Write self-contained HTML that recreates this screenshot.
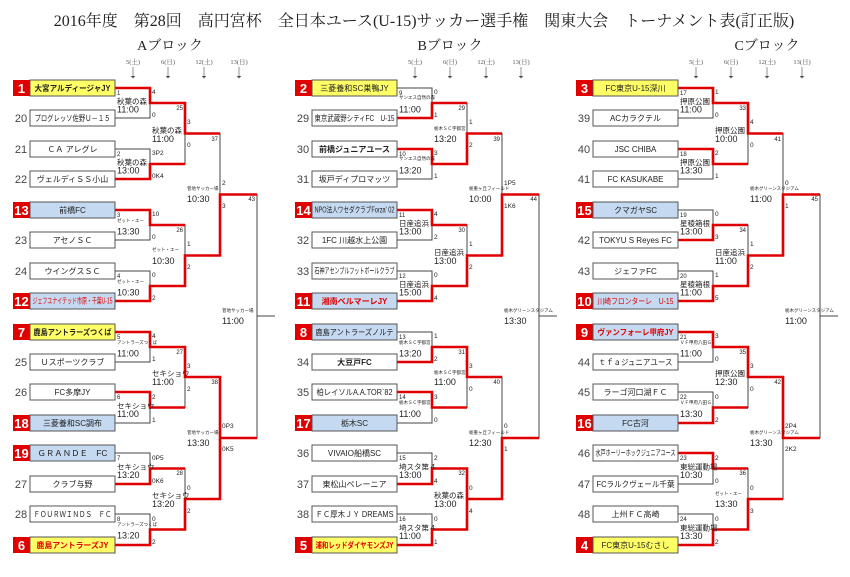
<!DOCTYPE html>
<html><head><meta charset="utf-8"><style>
html,body{margin:0;padding:0;background:#fff;width:850px;height:577px;overflow:hidden}
svg{display:block}
text{font-family:"Liberation Sans","Noto Sans CJK JP",sans-serif;fill:#222}
.ser{font-family:"Liberation Serif","Noto Serif CJK JP",serif}
.tm{font-size:16px}
.bt{font-size:14px}
.dt{font-size:6.5px;fill:#555}
.n{font-size:6px}
.v{font-size:7.5px}
.tv{font-size:4.5px}
.t{font-size:9px;transform:translate(0,1px)}
.s{font-size:6.5px}
.num{font-size:11px;fill:#444}
.sn{font-size:13px;font-weight:bold;fill:#fff}
.tn{font-size:8px}
.rd{fill:#e00000}
.blk{fill:none;stroke:#444;stroke-width:1}
.red{fill:none;stroke:#e00000;stroke-width:2.6}
.bx{fill:#fff;stroke:#555;stroke-width:1}
.by{fill:#ffff66;stroke:#555;stroke-width:1}
.bb{fill:#c5d9f1;stroke:#555;stroke-width:1}
.sb{fill:#e00000}
.ar{stroke:#777;stroke-width:.8}
</style></head><body>
<svg width="850" height="577" viewBox="0 0 850 577" xmlns="http://www.w3.org/2000/svg">
<text class="ser tm" x="424" y="26" text-anchor="middle">2016年度　第28回　高円宮杯　全日本ユース(U-15)サッカー選手権　関東大会　トーナメント表(訂正版)</text>
<text class="ser bt" x="170" y="50" text-anchor="middle">Aブロック</text>
<text class="ser bt" x="450" y="50" text-anchor="middle">Bブロック</text>
<text class="ser bt" x="767" y="50" text-anchor="middle">Cブロック</text>

<g>
<text class="dt ser" x="133" y="64" text-anchor="middle">5(土)</text>
<text class="dt ser" x="168" y="64" text-anchor="middle">6(日)</text>
<text class="dt ser" x="204" y="64" text-anchor="middle">12(土)</text>
<text class="dt ser" x="239" y="64" text-anchor="middle">13(日)</text>
<path class="ar" d="M133 67V78M131 76L133 78L135 76M168 67V78M166 76L168 78L170 76M204 67V78M202 76L204 78L206 76M239 67V78M237 76L239 78L241 76"/>
</g>
<g transform="translate(282,0)">
<text class="dt ser" x="133" y="64" text-anchor="middle">5(土)</text>
<text class="dt ser" x="168" y="64" text-anchor="middle">6(日)</text>
<text class="dt ser" x="204" y="64" text-anchor="middle">12(土)</text>
<text class="dt ser" x="239" y="64" text-anchor="middle">13(日)</text>
<path class="ar" d="M133 67V78M131 76L133 78L135 76M168 67V78M166 76L168 78L170 76M204 67V78M202 76L204 78L206 76M239 67V78M237 76L239 78L241 76"/>
</g>
<g transform="translate(563,0)">
<text class="dt ser" x="133" y="64" text-anchor="middle">5(土)</text>
<text class="dt ser" x="168" y="64" text-anchor="middle">6(日)</text>
<text class="dt ser" x="204" y="64" text-anchor="middle">12(土)</text>
<text class="dt ser" x="239" y="64" text-anchor="middle">13(日)</text>
<path class="ar" d="M133 67V78M131 76L133 78L135 76M168 67V78M166 76L168 78L170 76M204 67V78M202 76L204 78L206 76M239 67V78M237 76L239 78L241 76"/>
</g>

<!-- ============ BLOCK A ============ -->
<g>
<path class="blk" d="M115 88H150V118H115M115 149H150V179H115M115 210H150V240H115M115 271H150V301H115M115 332H150V362H115M115 392H150V423H115M115 453H150V484H115M115 514H150V545H115M150 103H185V164H150M150 225H185V286H150M150 347H185V407.5H150M150 468.5H185V529.5H150M185 133.5H220V255.5H185M185 377H220V499H185M220 194.5H257V438H220M257 316H275"/>
<path class="red" d="M115 88H150V103H185V133.5H220M115 179H150V164H185M115 210H150V225H185M115 301H150V286H185V255.5H220V194.5H257M115 332H150V347H185V377H220V438H257M115 392H150V407.5H185M115 484H150V468.5H185M115 545H150V529.5H185V499H220V438"/>
<rect class="sb" x="13" y="80" width="17" height="16"/><text class="sn" x="21.5" y="93" text-anchor="middle">1</text>
<rect class="by" x="30" y="80" width="85" height="16"/><text class="tn" x="72.5" y="91" text-anchor="middle" font-weight="bold" textLength="76" lengthAdjust="spacingAndGlyphs">大宮アルディージャJY</text>
<text class="num" x="21" y="122" text-anchor="middle">20</text><rect class="bx" x="30" y="110" width="85" height="16"/><text class="tn" x="72.5" y="121" text-anchor="middle" textLength="76" lengthAdjust="spacingAndGlyphs">プログレッソ佐野Ｕ－１５</text>
<text class="num" x="21" y="153" text-anchor="middle">21</text><rect class="bx" x="30" y="141" width="85" height="16"/><text class="tn" x="72.5" y="152" text-anchor="middle">ＣＡ アレグレ</text>
<text class="num" x="21" y="183" text-anchor="middle">22</text><rect class="bx" x="30" y="171" width="85" height="16"/><text class="tn" x="72.5" y="182" text-anchor="middle">ヴェルディＳＳ小山</text>
<rect class="sb" x="13" y="202" width="17" height="16"/><text class="sn" x="21.5" y="215" text-anchor="middle">13</text>
<rect class="bb" x="30" y="202" width="85" height="16"/><text class="tn" x="72.5" y="213" text-anchor="middle">前橋FC</text>
<text class="num" x="21" y="244" text-anchor="middle">23</text><rect class="bx" x="30" y="232" width="85" height="16"/><text class="tn" x="72.5" y="243" text-anchor="middle">アセノＳＣ</text>
<text class="num" x="21" y="275" text-anchor="middle">24</text><rect class="bx" x="30" y="263" width="85" height="16"/><text class="tn" x="72.5" y="274" text-anchor="middle">ウイングスＳＣ</text>
<rect class="sb" x="13" y="293" width="17" height="16"/><text class="sn" x="21.5" y="306" text-anchor="middle">12</text>
<rect class="bb" x="30" y="293" width="85" height="16"/><text class="tn rd" x="72.5" y="303.5" text-anchor="middle" font-size="5.5" textLength="80" lengthAdjust="spacingAndGlyphs">ジェフユナイテッド市原・千葉U-15</text>
<rect class="sb" x="13" y="324" width="17" height="16"/><text class="sn" x="21.5" y="337" text-anchor="middle">7</text>
<rect class="by" x="30" y="324" width="85" height="16"/><text class="tn" x="72.5" y="335" text-anchor="middle" font-weight="bold" textLength="78" lengthAdjust="spacingAndGlyphs">鹿島アントラーズつくば</text>
<text class="num" x="21" y="366" text-anchor="middle">25</text><rect class="bx" x="30" y="354" width="85" height="16"/><text class="tn" x="72.5" y="365" text-anchor="middle">Ｕスポーツクラブ</text>
<text class="num" x="21" y="396" text-anchor="middle">26</text><rect class="bx" x="30" y="384" width="85" height="16"/><text class="tn" x="72.5" y="395" text-anchor="middle">FC多摩JY</text>
<rect class="sb" x="13" y="415" width="17" height="16"/><text class="sn" x="21.5" y="428" text-anchor="middle">18</text>
<rect class="bb" x="30" y="415" width="85" height="16"/><text class="tn" x="72.5" y="426" text-anchor="middle">三菱養和SC調布</text>
<rect class="sb" x="13" y="445" width="17" height="16"/><text class="sn" x="21.5" y="458" text-anchor="middle">19</text>
<rect class="bb" x="30" y="445" width="85" height="16"/><text class="tn" x="72.5" y="456" text-anchor="middle" textLength="70" lengthAdjust="spacingAndGlyphs">ＧＲＡＮＤＥ　FC</text>
<text class="num" x="21" y="488" text-anchor="middle">27</text><rect class="bx" x="30" y="476" width="85" height="16"/><text class="tn" x="72.5" y="487" text-anchor="middle">クラブ与野</text>
<text class="num" x="21" y="518" text-anchor="middle">28</text><rect class="bx" x="30" y="506" width="85" height="16"/><text class="tn" x="72.5" y="517" text-anchor="middle" textLength="78" lengthAdjust="spacingAndGlyphs">ＦＯＵＲＷＩＮＤＳ　ＦＣ</text>
<rect class="sb" x="13" y="537" width="17" height="16"/><text class="sn" x="21.5" y="550" text-anchor="middle">6</text>
<rect class="by" x="30" y="537" width="85" height="16"/><text class="tn rd" x="72.5" y="548" text-anchor="middle" font-weight="bold" textLength="72" lengthAdjust="spacingAndGlyphs">鹿島アントラーズJY</text>
<text class="n" x="117" y="95">1</text><text class="v" x="117" y="104">秋葉の森</text><text class="t" x="117" y="111.5">11:00</text><text class="s" x="152" y="94">4</text><text class="s" x="152" y="117">0</text>
<text class="n" x="117" y="156">2</text><text class="v" x="117" y="165">秋葉の森</text><text class="t" x="117" y="172.5">13:00</text><text class="s" x="152" y="155">3P2</text><text class="s" x="152" y="178">0K4</text>
<text class="n" x="117" y="217">3</text><text class="tv" x="117" y="222" font-size="6">ゼット・エー</text><text class="t" x="117" y="233.5">13:30</text><text class="s" x="152" y="216">10</text><text class="s" x="152" y="239">0</text>
<text class="n" x="117" y="278">4</text><text class="tv" x="117" y="283" font-size="6">ゼット・エー</text><text class="t" x="117" y="294.5">10:30</text><text class="s" x="152" y="277">0</text><text class="s" x="152" y="300">2</text>
<text class="n" x="117" y="339">5</text><text class="tv" x="117" y="344">アントラーズつくば</text><text class="t" x="117" y="355.5">11:00</text><text class="s" x="152" y="338">4</text><text class="s" x="152" y="361">1</text>
<text class="n" x="117" y="399">6</text><text class="v" x="117" y="408.5">セキショウ</text><text class="t" x="117" y="416">11:00</text><text class="s" x="152" y="399">2</text><text class="s" x="152" y="422">1</text>
<text class="n" x="117" y="460">7</text><text class="v" x="117" y="469.5">セキショウ</text><text class="t" x="117" y="477">13:20</text><text class="s" x="152" y="460">0P5</text><text class="s" x="152" y="483">0K6</text>
<text class="n" x="117" y="521">8</text><text class="tv" x="117" y="526">アントラーズつくば</text><text class="t" x="117" y="537.5">13:20</text><text class="s" x="152" y="521">0</text><text class="s" x="152" y="544">2</text>
<text class="n" x="183" y="110" text-anchor="end">25</text><text class="v" x="152" y="133">秋葉の森</text><text class="t" x="152" y="141">11:00</text><text class="s" x="187" y="124">3</text><text class="s" x="187" y="147">0</text>
<text class="n" x="183" y="232" text-anchor="end">26</text><text class="tv" x="152" y="251" font-size="6">ゼット・エー</text><text class="t" x="152" y="263">10:30</text><text class="s" x="187" y="246">1</text><text class="s" x="187" y="269">2</text>
<text class="n" x="183" y="354" text-anchor="end">27</text><text class="v" x="152" y="376">セキショウ</text><text class="t" x="152" y="384">11:00</text><text class="s" x="187" y="368">3</text><text class="s" x="187" y="391">2</text>
<text class="n" x="183" y="475" text-anchor="end">28</text><text class="v" x="152" y="498">セキショウ</text><text class="t" x="152" y="506">13:20</text><text class="s" x="187" y="490">0</text><text class="s" x="187" y="513">2</text>
<text class="n" x="218" y="141" text-anchor="end">37</text><text class="tv" x="187" y="190">菅地サッカー場</text><text class="t" x="187" y="201">10:30</text><text class="s" x="222" y="185">2</text><text class="s" x="222" y="208">3</text>
<text class="n" x="218" y="384" text-anchor="end">38</text><text class="tv" x="187" y="434">菅地サッカー場</text><text class="t" x="187" y="445">13:30</text><text class="s" x="222" y="428">0P3</text><text class="s" x="222" y="451">0K5</text>
<text class="n" x="255" y="201" text-anchor="end">43</text><text class="tv" x="222" y="312">菅地サッカー場</text><text class="t" x="222" y="323">11:00</text>
</g>

<!-- ============ BLOCK B ============ -->
<g transform="translate(282,0)">
<path class="blk" d="M115 88H150V118H115M115 149H150V179H115M115 210H150V240H115M115 271H150V301H115M115 332H150V362H115M115 392H150V423H115M115 453H150V484H115M115 514H150V545H115M150 103H185V164H150M150 225H185V286H150M150 347H185V407.5H150M150 468.5H185V529.5H150M185 133.5H220V255.5H185M185 377H220V499H185M220 194.5H257V438H220M257 316H275"/>
<path class="red" d="M115 118H150V103H185M115 149H150V164H185V133.5H220M115 210H150V225H185M115 301H150V286H185V255.5H220V194.5H257M115 362H150V347H185V377H220M115 392H150V407.5H185M115 484H150V468.5H185V499H220V438H257M115 545H150V529.5H185V499"/>
<rect class="sb" x="13" y="80" width="17" height="16"/><text class="sn" x="21.5" y="93" text-anchor="middle">2</text>
<rect class="by" x="30" y="80" width="85" height="16"/><text class="tn" x="72.5" y="91" text-anchor="middle">三菱養和SC巣鴨JY</text>
<text class="num" x="21" y="122" text-anchor="middle">29</text><rect class="bx" x="30" y="110" width="85" height="16"/><text class="tn" x="72.5" y="121" text-anchor="middle" font-size="6.5" textLength="80" lengthAdjust="spacingAndGlyphs">東京武蔵野シティFC　U-15</text>
<text class="num" x="21" y="153" text-anchor="middle">30</text><rect class="bx" x="30" y="141" width="85" height="16"/><text class="tn" x="72.5" y="152" text-anchor="middle" font-weight="bold">前橋ジュニアユース</text>
<text class="num" x="21" y="183" text-anchor="middle">31</text><rect class="bx" x="30" y="171" width="85" height="16"/><text class="tn" x="72.5" y="182" text-anchor="middle">坂戸ディプロマッツ</text>
<rect class="sb" x="13" y="202" width="17" height="16"/><text class="sn" x="21.5" y="215" text-anchor="middle">14</text>
<rect class="bb" x="30" y="202" width="85" height="16"/><text class="tn" x="72.5" y="212.5" text-anchor="middle" font-size="5.5" textLength="80" lengthAdjust="spacingAndGlyphs">NPO法人ワセダクラブForza' 02</text>
<text class="num" x="21" y="244" text-anchor="middle">32</text><rect class="bx" x="30" y="232" width="85" height="16"/><text class="tn" x="72.5" y="243" text-anchor="middle">1FC 川越水上公園</text>
<text class="num" x="21" y="275" text-anchor="middle">33</text><rect class="bx" x="30" y="263" width="85" height="16"/><text class="tn" x="72.5" y="273.5" text-anchor="middle" font-size="5.5" textLength="80" lengthAdjust="spacingAndGlyphs">石神アセンブルフットボールクラブ</text>
<rect class="sb" x="13" y="293" width="17" height="16"/><text class="sn" x="21.5" y="306" text-anchor="middle">11</text>
<rect class="bb" x="30" y="293" width="85" height="16"/><text class="tn rd" x="72.5" y="304" text-anchor="middle" font-weight="bold">湘南ベルマーレJY</text>
<rect class="sb" x="13" y="324" width="17" height="16"/><text class="sn" x="21.5" y="337" text-anchor="middle">8</text>
<rect class="bb" x="30" y="324" width="85" height="16"/><text class="tn" x="72.5" y="335" text-anchor="middle" textLength="78" lengthAdjust="spacingAndGlyphs">鹿島アントラーズノルテ</text>
<text class="num" x="21" y="366" text-anchor="middle">34</text><rect class="bx" x="30" y="354" width="85" height="16"/><text class="tn" x="72.5" y="365" text-anchor="middle" font-weight="bold">大豆戸FC</text>
<text class="num" x="21" y="396" text-anchor="middle">35</text><rect class="bx" x="30" y="384" width="85" height="16"/><text class="tn" x="72.5" y="395" text-anchor="middle" textLength="76" lengthAdjust="spacingAndGlyphs">柏レイソルA.A.TOR`82</text>
<rect class="sb" x="13" y="415" width="17" height="16"/><text class="sn" x="21.5" y="428" text-anchor="middle">17</text>
<rect class="bb" x="30" y="415" width="85" height="16"/><text class="tn" x="72.5" y="426" text-anchor="middle">栃木SC</text>
<text class="num" x="21" y="457" text-anchor="middle">36</text><rect class="bx" x="30" y="445" width="85" height="16"/><text class="tn" x="72.5" y="456" text-anchor="middle">VIVAIO船橋SC</text>
<text class="num" x="21" y="488" text-anchor="middle">37</text><rect class="bx" x="30" y="476" width="85" height="16"/><text class="tn" x="72.5" y="487" text-anchor="middle">東松山ペレーニア</text>
<text class="num" x="21" y="518" text-anchor="middle">38</text><rect class="bx" x="30" y="506" width="85" height="16"/><text class="tn" x="72.5" y="517" text-anchor="middle" font-size="7" textLength="78" lengthAdjust="spacingAndGlyphs">ＦＣ厚木ＪＹ DREAMS</text>
<rect class="sb" x="13" y="537" width="17" height="16"/><text class="sn" x="21.5" y="550" text-anchor="middle">5</text>
<rect class="by" x="30" y="537" width="85" height="16"/><text class="tn rd" x="72.5" y="548" text-anchor="middle" font-weight="bold" textLength="78" lengthAdjust="spacingAndGlyphs">浦和レッドダイヤモンズJY</text>
<text class="n" x="117" y="95">9</text><text class="tv" x="117" y="99">サンエス自然の森</text><text class="t" x="117" y="111.5">11:00</text><text class="s" x="152" y="94">0</text><text class="s" x="152" y="117">1</text>
<text class="n" x="117" y="156">10</text><text class="tv" x="117" y="160">サンエス自然の森</text><text class="t" x="117" y="172.5">13:20</text><text class="s" x="152" y="155">3</text><text class="s" x="152" y="178">1</text>
<text class="n" x="117" y="217">11</text><text class="v" x="117" y="226">日産追浜</text><text class="t" x="117" y="233.5">13:00</text><text class="s" x="152" y="216">4</text><text class="s" x="152" y="239">2</text>
<text class="n" x="117" y="278">12</text><text class="v" x="117" y="287">日産追浜</text><text class="t" x="117" y="294.5">15:00</text><text class="s" x="152" y="277">0</text><text class="s" x="152" y="300">4</text>
<text class="n" x="117" y="339">13</text><text class="tv" x="117" y="344">栃木ＳＣ宇都宮</text><text class="t" x="117" y="355.5">13:20</text><text class="s" x="152" y="338">1</text><text class="s" x="152" y="361">2</text>
<text class="n" x="117" y="399">14</text><text class="tv" x="117" y="404">栃木ＳＣ宇都宮</text><text class="t" x="117" y="416">11:00</text><text class="s" x="152" y="399">3</text><text class="s" x="152" y="422">0</text>
<text class="n" x="117" y="460">15</text><text class="v" x="117" y="469.5">埼スタ第４</text><text class="t" x="117" y="477">13:00</text><text class="s" x="152" y="460">2</text><text class="s" x="152" y="483">4</text>
<text class="n" x="117" y="521">16</text><text class="v" x="117" y="530.5">埼スタ第４</text><text class="t" x="117" y="538">11:00</text><text class="s" x="152" y="521">0</text><text class="s" x="152" y="544">1</text>
<text class="n" x="183" y="110" text-anchor="end">29</text><text class="tv" x="152" y="130">栃木ＳＣ宇都宮</text><text class="t" x="152" y="141">13:20</text><text class="s" x="187" y="124">1</text><text class="s" x="187" y="147">2</text>
<text class="n" x="183" y="232" text-anchor="end">30</text><text class="v" x="152" y="255">日産追浜</text><text class="t" x="152" y="263">13:00</text><text class="s" x="187" y="246">1</text><text class="s" x="187" y="269">2</text>
<text class="n" x="183" y="354" text-anchor="end">31</text><text class="tv" x="152" y="374">栃木ＳＣ宇都宮</text><text class="t" x="152" y="384">11:00</text><text class="s" x="187" y="368">3</text><text class="s" x="187" y="391">0</text>
<text class="n" x="183" y="475" text-anchor="end">32</text><text class="v" x="152" y="498">秋葉の森</text><text class="t" x="152" y="506">13:00</text><text class="s" x="187" y="490">0</text><text class="s" x="187" y="513">4</text>
<text class="n" x="218" y="141" text-anchor="end">39</text><text class="tv" x="187" y="190">栃重ヶ丘フィールド</text><text class="t" x="187" y="201">10:00</text><text class="s" x="222" y="185">1P5</text><text class="s" x="222" y="208">1K6</text>
<text class="n" x="218" y="384" text-anchor="end">40</text><text class="tv" x="187" y="434">栃重ヶ丘フィールド</text><text class="t" x="187" y="445">12:30</text><text class="s" x="222" y="428">0</text><text class="s" x="222" y="451">1</text>
<text class="n" x="255" y="201" text-anchor="end">44</text><text class="tv" x="222" y="312">栃木グリーンスタジアム</text><text class="t" x="222" y="323">13:30</text>
</g>

<!-- ============ BLOCK C ============ -->
<g transform="translate(563,0)">
<path class="blk" d="M115 88H150V118H115M115 149H150V179H115M115 210H150V240H115M115 271H150V301H115M115 332H150V362H115M115 392H150V423H115M115 453H150V484H115M115 514H150V545H115M150 103H185V164H150M150 225H185V286H150M150 347H185V407.5H150M150 468.5H185V529.5H150M185 133.5H220V255.5H185M185 377H220V499H185M220 194.5H257V438H220M257 316H275"/>
<path class="red" d="M115 88H150V103H185V133.5H220M115 149H150V164H185M115 240H150V225H185M115 301H150V286H185V255.5H220V194.5H257M115 332H150V347H185V377H220V438H257M115 423H150V407.5H185M115 453H150V468.5H185M115 545H150V529.5H185V499H220"/>
<rect class="sb" x="13" y="80" width="17" height="16"/><text class="sn" x="21.5" y="93" text-anchor="middle">3</text>
<rect class="by" x="30" y="80" width="85" height="16"/><text class="tn" x="72.5" y="91" text-anchor="middle">FC東京U-15深川</text>
<text class="num" x="21" y="122" text-anchor="middle">39</text><rect class="bx" x="30" y="110" width="85" height="16"/><text class="tn" x="72.5" y="121" text-anchor="middle">ACカラクテル</text>
<text class="num" x="21" y="153" text-anchor="middle">40</text><rect class="bx" x="30" y="141" width="85" height="16"/><text class="tn" x="72.5" y="152" text-anchor="middle">JSC CHIBA</text>
<text class="num" x="21" y="183" text-anchor="middle">41</text><rect class="bx" x="30" y="171" width="85" height="16"/><text class="tn" x="72.5" y="182" text-anchor="middle">FC KASUKABE</text>
<rect class="sb" x="13" y="202" width="17" height="16"/><text class="sn" x="21.5" y="215" text-anchor="middle">15</text>
<rect class="bb" x="30" y="202" width="85" height="16"/><text class="tn" x="72.5" y="213" text-anchor="middle">クマガヤSC</text>
<text class="num" x="21" y="244" text-anchor="middle">42</text><rect class="bx" x="30" y="232" width="85" height="16"/><text class="tn" x="72.5" y="243" text-anchor="middle">TOKYU S Reyes FC</text>
<text class="num" x="21" y="275" text-anchor="middle">43</text><rect class="bx" x="30" y="263" width="85" height="16"/><text class="tn" x="72.5" y="274" text-anchor="middle">ジェファFC</text>
<rect class="sb" x="13" y="293" width="17" height="16"/><text class="sn" x="21.5" y="306" text-anchor="middle">10</text>
<rect class="bb" x="30" y="293" width="85" height="16"/><text class="tn rd" x="72.5" y="304" text-anchor="middle" textLength="76" lengthAdjust="spacingAndGlyphs">川崎フロンターレ　U-15</text>
<rect class="sb" x="13" y="324" width="17" height="16"/><text class="sn" x="21.5" y="337" text-anchor="middle">9</text>
<rect class="bb" x="30" y="324" width="85" height="16"/><text class="tn rd" x="72.5" y="335" text-anchor="middle" font-weight="bold" textLength="76" lengthAdjust="spacingAndGlyphs">ヴァンフォーレ甲府JY</text>
<text class="num" x="21" y="366" text-anchor="middle">44</text><rect class="bx" x="30" y="354" width="85" height="16"/><text class="tn" x="72.5" y="365" text-anchor="middle" textLength="74" lengthAdjust="spacingAndGlyphs">ｔｆａジュニアユース</text>
<text class="num" x="21" y="396" text-anchor="middle">45</text><rect class="bx" x="30" y="384" width="85" height="16"/><text class="tn" x="72.5" y="395" text-anchor="middle">ラーゴ河口湖ＦＣ</text>
<rect class="sb" x="13" y="415" width="17" height="16"/><text class="sn" x="21.5" y="428" text-anchor="middle">16</text>
<rect class="bb" x="30" y="415" width="85" height="16"/><text class="tn" x="72.5" y="426" text-anchor="middle">FC古河</text>
<text class="num" x="21" y="457" text-anchor="middle">46</text><rect class="bx" x="30" y="445" width="85" height="16"/><text class="tn" x="72.5" y="455.5" text-anchor="middle" font-size="5.5" textLength="80" lengthAdjust="spacingAndGlyphs">水戸ホーリーホックジュニアユース</text>
<text class="num" x="21" y="488" text-anchor="middle">47</text><rect class="bx" x="30" y="476" width="85" height="16"/><text class="tn" x="72.5" y="487" text-anchor="middle" textLength="78" lengthAdjust="spacingAndGlyphs">FCラルクヴェール千葉</text>
<text class="num" x="21" y="518" text-anchor="middle">48</text><rect class="bx" x="30" y="506" width="85" height="16"/><text class="tn" x="72.5" y="517" text-anchor="middle">上州ＦＣ高崎</text>
<rect class="sb" x="13" y="537" width="17" height="16"/><text class="sn" x="21.5" y="550" text-anchor="middle">4</text>
<rect class="by" x="30" y="537" width="85" height="16"/><text class="tn" x="72.5" y="548" text-anchor="middle">FC東京U-15むさし</text>
<text class="n" x="117" y="95">17</text><text class="v" x="117" y="104">押原公園</text><text class="t" x="117" y="111.5">11:00</text><text class="s" x="152" y="94">1</text><text class="s" x="152" y="117">0</text>
<text class="n" x="117" y="156">18</text><text class="v" x="117" y="165">押原公園</text><text class="t" x="117" y="172.5">13:30</text><text class="s" x="152" y="155">2</text><text class="s" x="152" y="178">1</text>
<text class="n" x="117" y="217">19</text><text class="v" x="117" y="226">星稜箱根</text><text class="t" x="117" y="233.5">13:00</text><text class="s" x="152" y="216">0</text><text class="s" x="152" y="239">3</text>
<text class="n" x="117" y="278">20</text><text class="v" x="117" y="287">星稜箱根</text><text class="t" x="117" y="294.5">11:00</text><text class="s" x="152" y="277">1</text><text class="s" x="152" y="300">5</text>
<text class="n" x="117" y="339">21</text><text class="tv" x="117" y="344">ＶＦ甲府八田Ｇ</text><text class="t" x="117" y="355.5">11:00</text><text class="s" x="152" y="338">3</text><text class="s" x="152" y="361">0</text>
<text class="n" x="117" y="399">22</text><text class="tv" x="117" y="404">ＶＦ甲府八田Ｇ</text><text class="t" x="117" y="416">13:30</text><text class="s" x="152" y="399">0</text><text class="s" x="152" y="422">2</text>
<text class="n" x="117" y="460">23</text><text class="v" x="117" y="469.5">東総運動場</text><text class="t" x="117" y="477">10:30</text><text class="s" x="152" y="460">2</text><text class="s" x="152" y="483">0</text>
<text class="n" x="117" y="521">24</text><text class="v" x="117" y="530.5">東総運動場</text><text class="t" x="117" y="538">13:30</text><text class="s" x="152" y="521">0</text><text class="s" x="152" y="544">2</text>
<text class="n" x="183" y="110" text-anchor="end">33</text><text class="v" x="152" y="133">押原公園</text><text class="t" x="152" y="141">10:00</text><text class="s" x="187" y="124">4</text><text class="s" x="187" y="147">0</text>
<text class="n" x="183" y="232" text-anchor="end">34</text><text class="v" x="152" y="255">日産追浜</text><text class="t" x="152" y="263">11:00</text><text class="s" x="187" y="246">1</text><text class="s" x="187" y="269">2</text>
<text class="n" x="183" y="354" text-anchor="end">35</text><text class="v" x="152" y="376">押原公園</text><text class="t" x="152" y="384">12:30</text><text class="s" x="187" y="368">3</text><text class="s" x="187" y="391">0</text>
<text class="n" x="183" y="475" text-anchor="end">36</text><text class="tv" x="152" y="495" font-size="6">ゼット・エー</text><text class="t" x="152" y="506">13:30</text><text class="s" x="187" y="490">0</text><text class="s" x="187" y="513">3</text>
<text class="n" x="218" y="141" text-anchor="end">41</text><text class="tv" x="187" y="190">栃木グリーンスタジアム</text><text class="t" x="187" y="201">11:00</text><text class="s" x="222" y="185">0</text><text class="s" x="222" y="208">1</text>
<text class="n" x="218" y="384" text-anchor="end">42</text><text class="tv" x="187" y="434">栃木グリーンスタジアム</text><text class="t" x="187" y="445">13:30</text><text class="s" x="222" y="428">2P4</text><text class="s" x="222" y="451">2K2</text>
<text class="n" x="255" y="201" text-anchor="end">45</text><text class="tv" x="222" y="312">栃木グリーンスタジアム</text><text class="t" x="222" y="323">11:00</text>
</g>
</svg>
</body></html>
